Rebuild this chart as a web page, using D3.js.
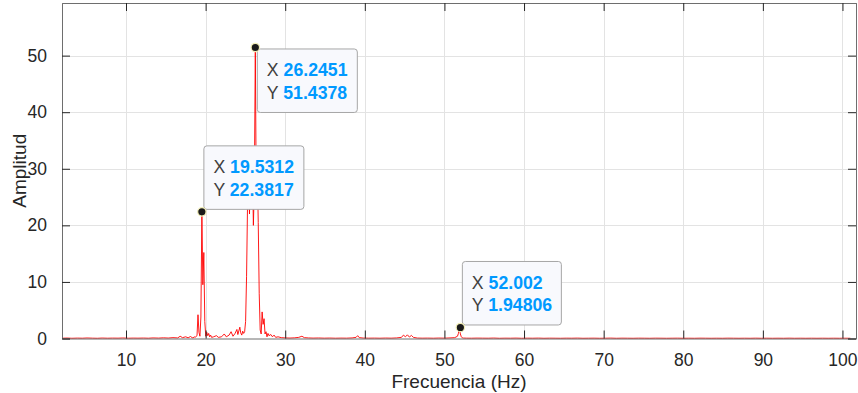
<!DOCTYPE html>
<html>
<head>
<meta charset="utf-8">
<script src="https://cdn.jsdelivr.net/npm/d3@7/dist/d3.min.js"></script>
<style>
  html, body { margin: 0; padding: 0; background: #fff; }
  svg { display: block; font-family: "Liberation Sans", Arial, sans-serif; }
</style>
</head>
<body>
<div id="chart"></div>
<script>
// Spectrum values (Hz, amplitude)
const freqHz = [
  2.0, 2.6, 3.2, 3.9, 4.5, 5.1, 5.8, 6.4, 7.0, 7.7, 8.3, 9.0, 9.6, 10.3, 10.9, 11.5,
  12.2, 12.8, 13.4, 14.1, 14.7, 15.3, 15.9, 16.5, 16.8, 17.1, 17.5, 17.8, 18.1,
  18.311, 18.433, 18.555, 18.677, 18.799, 18.921, 19.043, 19.165, 19.287, 19.409,
  19.531, 19.653, 19.775, 19.897, 20.020, 20.142, 20.264, 20.386, 20.508, 20.630, 20.752,
  21.0, 21.36, 21.6, 22.0, 22.34, 22.6, 22.95, 23.2, 23.44, 23.7, 23.93, 24.05, 24.3,
  24.41, 24.54, 24.66, 24.78,
  24.902, 25.024, 25.146, 25.269, 25.391, 25.513, 25.635, 25.757, 25.879, 26.001,
  26.123, 26.245, 26.367, 26.489, 26.611, 26.733, 26.855, 26.978, 27.100, 27.222,
  27.344, 27.466, 27.588, 27.710, 27.832, 27.954,
  28.2, 28.4, 28.6, 28.8, 29.1, 29.5, 30.0, 30.6, 31.2, 31.7, 32.1, 32.4, 32.9,
  33.5, 34.2, 34.9, 35.6, 36.3, 37.0, 37.7, 38.4, 38.9, 39.1, 39.3, 39.8, 40.5,
  41.2, 41.9, 42.6, 43.3, 44.0, 44.6, 44.85, 45.1, 45.35, 45.6, 45.85, 46.1, 46.6,
  47.2, 47.9, 48.6, 49.3, 50.0, 50.7, 51.3, 51.637, 51.759, 51.880, 52.002, 52.124,
  52.246, 52.368, 52.8, 53.4, 54.1, 54.8, 55.5, 56.2, 56.9, 57.6, 58.3, 59.0, 59.7,
  60.4, 61.1, 61.8, 62.5, 63.2, 63.9, 64.6, 65.3, 66.0, 66.7, 67.4, 68.1, 68.8,
  69.5, 70.2, 70.9, 71.6, 72.3, 73.0, 73.7, 74.4, 75.1, 75.8, 76.5, 77.2, 77.9,
  78.6, 79.3, 80.0, 80.7, 81.4, 82.1, 82.8, 83.5, 84.2, 84.9, 85.6, 86.3, 87.0,
  87.7, 88.4, 89.1, 89.8, 90.5, 91.2, 91.9, 92.6, 93.3, 94.0, 94.7, 95.4, 96.1,
  96.8, 97.5, 98.2, 98.9, 99.6, 100.3, 101.0, 101.7
];
const amplitude = [
  0.05, 0.08, 0.04, 0.07, 0.05, 0.09, 0.06, 0.04, 0.08, 0.05, 0.07, 0.06, 0.09, 0.05, 0.07, 0.06,
  0.08, 0.05, 0.1, 0.07, 0.12, 0.08, 0.15, 0.1, 0.4, 0.15, 0.3, 0.12, 0.35,
  0.15, 0.1, 0.3, 0.2, 0.35, 0.5, 4.2, 1.1, 0.4, 3.8,
  22.3817, 9.5, 15.2, 3.0, 0.4, 1.1, 0.5, 0.9, 0.3, 0.6, 0.2,
  0.3, 0.5, 0.2, 0.3, 0.8, 0.3, 0.6, 1.2, 0.4, 0.9, 1.6, 0.7, 2.0,
  1.0, 0.6, 1.3, 0.9,
  1.2, 3.0, 11.0, 24.0, 30.0, 22.0, 33.0, 25.0, 31.0, 20.0,
  27.0, 51.4378, 24.0, 30.0, 20.5, 8.0, 1.5, 0.8, 4.7, 2.5,
  3.5, 0.8, 1.2, 0.3, 0.9, 0.5,
  0.7, 0.3, 0.6, 0.2, 0.3, 0.15, 0.1, 0.08, 0.12, 0.2, 0.4, 0.15, 0.1,
  0.07, 0.09, 0.06, 0.08, 0.05, 0.07, 0.06, 0.1, 0.2, 0.5, 0.15, 0.08, 0.06,
  0.07, 0.05, 0.08, 0.06, 0.1, 0.2, 0.6, 0.3, 0.65, 0.25, 0.55, 0.2, 0.08,
  0.06, 0.07, 0.05, 0.08, 0.06, 0.1, 0.15, 0.4, 0.9, 1.94806, 0.8,
  0.3, 0.12, 0.08, 0.06, 0.05, 0.07, 0.06, 0.05, 0.08, 0.04, 0.06, 0.05, 0.07,
  0.04, 0.06, 0.05, 0.07, 0.04, 0.06, 0.05, 0.04, 0.06, 0.05, 0.07, 0.04, 0.05,
  0.06, 0.04, 0.05, 0.07, 0.04, 0.06, 0.05, 0.04, 0.06, 0.05, 0.04, 0.06, 0.05,
  0.04, 0.05, 0.06, 0.04, 0.05, 0.04, 0.06, 0.05, 0.04, 0.05, 0.04, 0.06, 0.05,
  0.04, 0.05, 0.04, 0.06, 0.04, 0.05, 0.04, 0.05, 0.04, 0.06, 0.04, 0.05, 0.04,
  0.05, 0.04, 0.05, 0.04, 0.05, 0.04, 0.05, 0.04
];

// Data tips
const tipX = [26.2451, 19.5312, 52.002];
const tipY = [51.4378, 22.3817, 1.94806];
const tipLabelX = ['26.2451', '19.5312', '52.002'];
const tipLabelY = ['51.4378', '22.3817', '1.94806'];
const tipBelow = [true, false, false];

const xTicks = [10, 20, 30, 40, 50, 60, 70, 80, 90, 100];
const yTicks = [0, 10, 20, 30, 40, 50];

const W = 858, H = 393;
const plot = { left: 62, right: 856, top: 3, bottom: 338.5 };

const svg = d3.select('#chart').append('svg')
  .attr('width', W)
  .attr('height', H);

const x = d3.scaleLinear().domain([1.96, 101.7]).range([plot.left, plot.right]);
const y = d3.scaleLinear().domain([0, 59.3]).range([plot.bottom, plot.top]);

// Grid
const grid = svg.append('g').attr('stroke', '#e3e3e3').attr('stroke-width', 1);
grid.selectAll('.gx').data(xTicks).enter().append('line')
  .attr('x1', d => Math.round(x(d)) + 0.5).attr('x2', d => Math.round(x(d)) + 0.5)
  .attr('y1', plot.top).attr('y2', plot.bottom);
grid.selectAll('.gy').data(yTicks.filter(d => d > 0)).enter().append('line')
  .attr('x1', plot.left).attr('x2', plot.right)
  .attr('y1', d => Math.round(y(d)) + 0.5).attr('y2', d => Math.round(y(d)) + 0.5);

// Spectrum line
const pts = freqHz.map((f, i) => [f, amplitude[i]]);
svg.append('path')
  .datum(pts)
  .attr('fill', 'none')
  .attr('stroke', '#ff0000')
  .attr('stroke-width', 0.9)
  .attr('stroke-linejoin', 'round')
  .attr('d', d3.line().x(d => x(d[0])).y(d => y(d[1])));

// Axes (MATLAB-style box with inward ticks)
const tickLen = 8;
const axisFont = 17.5;
const labelFont = 19;
const tipFont = 17.7;

const xBottom = svg.append('g')
  .attr('transform', `translate(0,${plot.bottom})`)
  .call(d3.axisBottom(x).tickValues(xTicks).tickSize(-tickLen).tickPadding(tickLen + 7));
const xTop = svg.append('g')
  .attr('transform', `translate(0,${plot.top})`)
  .call(d3.axisTop(x).tickValues(xTicks).tickSize(-tickLen).tickFormat(''));
const yLeft = svg.append('g')
  .attr('transform', `translate(${plot.left},0)`)
  .call(d3.axisLeft(y).tickValues(yTicks).tickSize(-tickLen).tickPadding(tickLen + 7));
const yRight = svg.append('g')
  .attr('transform', `translate(${plot.right},0)`)
  .call(d3.axisRight(y).tickValues(yTicks).tickSize(-tickLen).tickFormat(''));

[xBottom, xTop, yLeft, yRight].forEach(g => {
  g.select('.domain').attr('stroke', '#6e6e6e').attr('stroke-width', 1);
  g.selectAll('.tick line').attr('stroke', '#262626').attr('stroke-width', 1);
  g.selectAll('.tick text')
    .attr('fill', '#262626')
    .attr('font-size', axisFont)
    .attr('font-family', '"Liberation Sans", Arial, sans-serif');
});

// Axis labels
svg.append('text')
  .attr('x', (plot.left + plot.right) / 2)
  .attr('y', 388)
  .attr('text-anchor', 'middle')
  .attr('font-size', labelFont)
  .attr('fill', '#262626')
  .text('Frecuencia (Hz)');

svg.append('text')
  .attr('transform', `translate(26,${(plot.top + plot.bottom) / 2}) rotate(-90)`)
  .attr('text-anchor', 'middle')
  .attr('font-size', labelFont)
  .attr('fill', '#262626')
  .text('Amplitud');

// Data tips
tipX.forEach((tx, i) => {
  const px = x(tx), py = y(tipY[i]);
  const g = svg.append('g');
  const box = g.append('rect')
    .attr('fill', '#f8f9fd')
    .attr('stroke', '#a6a6a6')
    .attr('stroke-width', 1)
    .attr('rx', 3);

  const lines = [['X ', tipLabelX[i]], ['Y ', tipLabelY[i]]];
  const texts = lines.map((l, j) => {
    const t = g.append('text')
      .attr('font-size', tipFont)
      .attr('y', 27.5 + j * 22.5);
    t.append('tspan').attr('fill', '#404040').text(l[0]);
    t.append('tspan').attr('fill', '#0099ff').attr('font-weight', 'bold').text(l[1]);
    return t;
  });
  const tw = d3.max(texts, t => t.node().getComputedTextLength());
  const bw = Math.round(tw + 19), bh = 63.5;
  texts.forEach(t => t.attr('x', 9.5));
  box.attr('width', bw).attr('height', bh);

  const bx = px + 2;
  const by = tipBelow[i] ? py + 1.5 : py - 2.5 - bh;
  g.attr('transform', `translate(${bx},${by})`);

  svg.append('circle')
    .attr('cx', px).attr('cy', py).attr('r', 4.2)
    .attr('fill', '#1a1a1a')
    .attr('stroke', '#f2eeb8')
    .attr('stroke-width', 1.2);
});
</script>
</body>
</html>
